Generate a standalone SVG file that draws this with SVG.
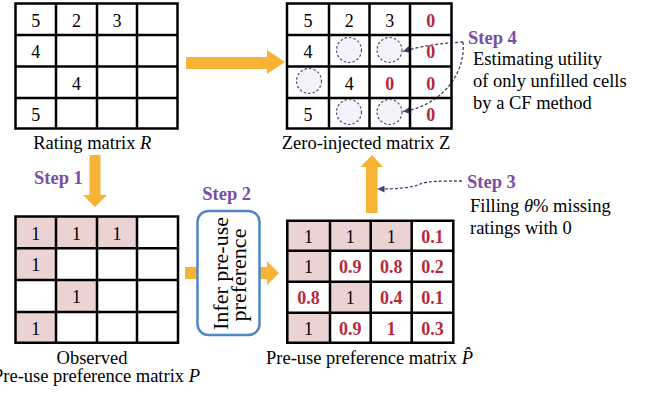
<svg xmlns="http://www.w3.org/2000/svg" width="655" height="399" viewBox="0 0 655 399">
  <style>
    text { font-family: "Liberation Serif", "Times New Roman", serif; fill: #000; }
    .lbl { font-size: 18.5px; }
    .num { font-size: 18px; text-anchor: middle; }
    .red { font-size: 18px; text-anchor: middle; font-weight: bold; fill: #b52a3b; }
    .step { font-size: 18.5px; font-weight: bold; fill: #7a4ea6; }
    .grid { fill: none; stroke: #000; stroke-width: 2.5; }
    .pink { fill: #ebd3d3; }
    .hole { fill: #f4f3f9; stroke: #5a4a7a; stroke-width: 1.2; stroke-dasharray: 2.5 2; }
    .big { fill: #f6b334; }
    .dash { fill: none; stroke: #4b3c6e; stroke-width: 1.3; stroke-dasharray: 3 2; }
    .box { fill: #fff; stroke: #4f86c3; stroke-width: 2.5; }
    .mid { text-anchor: middle; }
  </style>
  <defs>
    <marker id="tip" viewBox="0 0 10 10" refX="10" refY="5" markerWidth="8" markerHeight="7" markerUnits="userSpaceOnUse" orient="auto">
      <path d="M0,0 L10,5 L0,10 z" fill="#4b3c6e"/>
    </marker>
  </defs>

  <!-- block arrows and dashed leaders -->
  <g id="connectors">
    <polygon class="big" points="186,57 267,57 267,50 285,62 267,74 267,69 186,69"/>
    <polygon class="big" points="89.5,155 100.5,155 100.5,195 107,195 95,207 83,195 89.5,195"/>
    <polygon class="big" points="185,267 267,267 267,261 279,273 267,285 267,279 185,279"/>
    <polygon class="big" points="366,213 366,167 360.5,167 372,155 383,167 377.5,167 377.5,213"/>
    <path class="dash" marker-end="url(#tip)" d="M463,42 C445,43 424,45 403,51.5"/>
    <path class="dash" marker-end="url(#tip)" d="M463,42 C466,75 440,106 403,111.5"/>
    <path class="dash" marker-end="url(#tip)" d="M462,181 C440,181 428,181 420,184 C412,188 395,189 377.5,189"/>
  </g>

  <!-- rating matrix R -->
  <g id="matrix-R">
    <path class="grid" d="M15.5,3.5 H177.5 V128.5 H15.5 Z M56,3.5 V128.5 M97,3.5 V128.5 M137,3.5 V128.5 M15.5,35 H177.5 M15.5,66.5 H177.5 M15.5,98 H177.5"/>
    <text class="num" x="35.75" y="26.5">5</text>
    <text class="num" x="76.5" y="26.5">2</text>
    <text class="num" x="117" y="26.5">3</text>
    <text class="num" x="35.75" y="58">4</text>
    <text class="num" x="76.5" y="89.5">4</text>
    <text class="num" x="35.75" y="120.5">5</text>
    <text class="lbl mid" x="92.3" y="149">Rating matrix <tspan font-style="italic">R</tspan></text>
  </g>

  <!-- zero-injected matrix Z -->
  <g id="matrix-Z">
    <path class="grid" d="M287,3.5 H451.5 V128.5 H287 Z M329,3.5 V128.5 M369.5,3.5 V128.5 M410,3.5 V128.5 M287,35 H451.5 M287,66.5 H451.5 M287,98 H451.5"/>
    <text class="num" x="308" y="26.5">5</text>
    <text class="num" x="349.25" y="26.5">2</text>
    <text class="num" x="389.75" y="26.5">3</text>
    <text class="red" x="430.75" y="26.5">0</text>
    <text class="num" x="308" y="58">4</text>
    <circle class="hole" cx="349" cy="50" r="12.5"/>
    <circle class="hole" cx="389.5" cy="50" r="12.5"/>
    <text class="red" x="430.75" y="58">0</text>
    <circle class="hole" cx="309" cy="81" r="12.5"/>
    <text class="num" x="349.25" y="89.5">4</text>
    <text class="red" x="389.75" y="89.5">0</text>
    <text class="red" x="430.75" y="89.5">0</text>
    <text class="num" x="308" y="120.5">5</text>
    <circle class="hole" cx="349" cy="112" r="12.5"/>
    <circle class="hole" cx="389.5" cy="112" r="12.5"/>
    <text class="red" x="430.75" y="120.5">0</text>
    <text class="lbl mid" x="366" y="149">Zero-injected matrix Z</text>
  </g>

  <!-- observed pre-use preference matrix P -->
  <g id="matrix-P">
    <rect class="pink" x="15.5" y="216.5" width="121.5" height="31.8"/>
    <rect class="pink" x="15.5" y="248.3" width="40.5" height="31.7"/>
    <rect class="pink" x="56" y="280" width="41" height="32"/>
    <rect class="pink" x="15.5" y="312" width="40.5" height="30.7"/>
    <path class="grid" d="M15.5,216.5 H178 V342.7 H15.5 Z M56,216.5 V342.7 M97,216.5 V342.7 M137,216.5 V342.7 M15.5,248.3 H178 M15.5,280 H178 M15.5,312 H178"/>
    <text class="num" x="35.75" y="239.5">1</text>
    <text class="num" x="76.5" y="239.5">1</text>
    <text class="num" x="117" y="239.5">1</text>
    <text class="num" x="35.75" y="271">1</text>
    <text class="num" x="76.5" y="303">1</text>
    <text class="num" x="35.75" y="334.5">1</text>
    <text class="lbl mid" x="92" y="364">Observed</text>
    <text class="lbl mid" x="96.5" y="381.7">Pre-use preference matrix <tspan font-style="italic">P</tspan></text>
  </g>

  <!-- step 2 inference box -->
  <g id="infer-box">
    <rect class="box" x="197.5" y="211" width="62" height="124" rx="11"/>
    <text font-size="22" class="mid" transform="translate(227.5,273.5) rotate(-90)">Infer pre-use</text>
    <text font-size="22" class="mid" transform="translate(246,275) rotate(-90)">preference</text>
  </g>

  <!-- inferred pre-use preference matrix -->
  <g id="matrix-Phat">
    <rect class="pink" x="287.3" y="220.7" width="124.4" height="30"/>
    <rect class="pink" x="287.3" y="250.7" width="42.7" height="31"/>
    <rect class="pink" x="330" y="281.7" width="40.7" height="31"/>
    <rect class="pink" x="287.3" y="312.7" width="42.7" height="30"/>
    <path class="grid" d="M287.3,220.7 H453.3 V342.7 H287.3 Z M330,220.7 V342.7 M370.7,220.7 V342.7 M411.7,220.7 V342.7 M287.3,250.7 H453.3 M287.3,281.7 H453.3 M287.3,312.7 H453.3"/>
    <text class="num" x="308.6" y="242.7">1</text>
    <text class="num" x="350.3" y="242.7">1</text>
    <text class="num" x="391.2" y="242.7">1</text>
    <text class="red" x="432.5" y="242.7">0.1</text>
    <text class="num" x="308.6" y="273.2">1</text>
    <text class="red" x="350.3" y="273.2">0.9</text>
    <text class="red" x="391.2" y="273.2">0.8</text>
    <text class="red" x="432.5" y="273.2">0.2</text>
    <text class="red" x="308.6" y="304.2">0.8</text>
    <text class="num" x="350.3" y="304.2">1</text>
    <text class="red" x="391.2" y="304.2">0.4</text>
    <text class="red" x="432.5" y="304.2">0.1</text>
    <text class="num" x="308.6" y="334.7">1</text>
    <text class="red" x="350.3" y="334.7">0.9</text>
    <text class="red" x="391.2" y="334.7">1</text>
    <text class="red" x="432.5" y="334.7">0.3</text>
    <text class="lbl mid" x="369.5" y="363.5">Pre-use preference matrix <tspan font-style="italic">P̂</tspan></text>
  </g>

  <!-- step labels and notes -->
  <g id="step1"><text class="step" x="34" y="184">Step 1</text></g>
  <g id="step2"><text class="step mid" x="226.7" y="199.5">Step 2</text></g>
  <g id="step3">
    <text class="step" x="467" y="188.3">Step 3</text>
    <text class="lbl" x="470" y="212.3">Filling <tspan font-style="italic">θ</tspan>% missing</text>
    <text class="lbl" x="470" y="234">ratings with 0</text>
  </g>
  <g id="step4">
    <text class="step" x="468" y="44">Step 4</text>
    <text class="lbl" x="473" y="65">Estimating utility</text>
    <text class="lbl" x="473" y="87">of only unfilled cells</text>
    <text class="lbl" x="473" y="109">by a CF method</text>
  </g>
</svg>
